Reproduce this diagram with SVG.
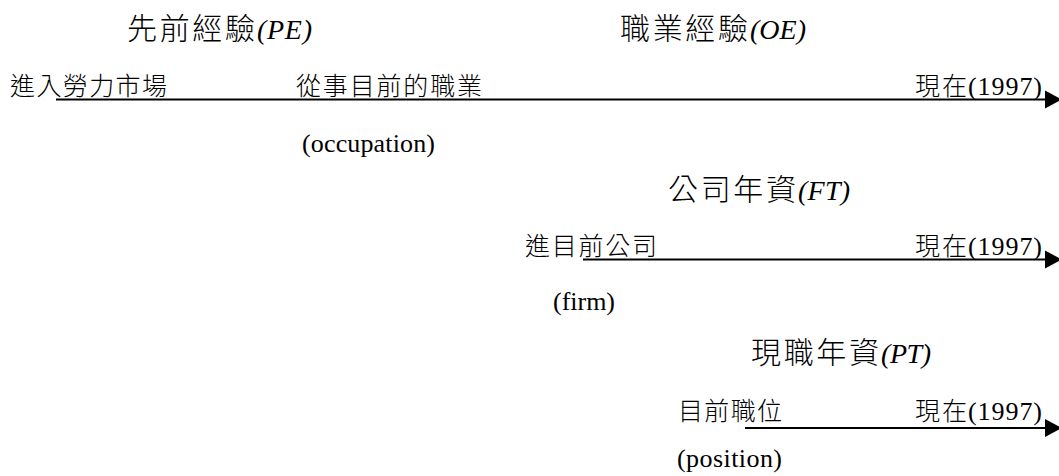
<svg xmlns="http://www.w3.org/2000/svg" width="1059" height="476" viewBox="0 0 1059 476">
<style>
.bg{fill:#ffffff}
.tc{font-family:"Noto Sans CJK TC","Noto Sans CJK SC",sans-serif;font-size:30px;font-weight:300;fill:#000}
.ti{font-family:"Liberation Serif","Times New Roman",serif;font-style:italic;font-size:28px;fill:#000}
.lc{font-family:"Noto Sans CJK TC","Noto Sans CJK SC",sans-serif;font-size:25px;font-weight:300;fill:#000}
.ll{font-family:"Liberation Serif","Times New Roman",serif;font-size:26px;fill:#000}
.ln{stroke:#000;stroke-width:2;fill:none}
</style>
<defs>
<marker id="ah" markerUnits="userSpaceOnUse" markerWidth="18" markerHeight="20" refX="0" refY="10" orient="auto">
<path d="M0,1 L17,10 L0,19 Z" fill="#000"/>
</marker>
</defs>
<rect class="bg" x="0" y="0" width="1059" height="476"/>
<g id="connectors">
<line class="ln" x1="56" y1="99.5" x2="1045" y2="99.5" marker-end="url(#ah)"/>
<line class="ln" x1="583" y1="259.5" x2="1045" y2="259.5" marker-end="url(#ah)"/>
<line class="ln" x1="745" y1="428" x2="1045" y2="428" marker-end="url(#ah)"/>
</g>
<g id="title-pe">
<text class="tc" x="127" y="39" textLength="128">先前經驗</text>
<text class="ti" x="257" y="39" textLength="55">(PE)</text>
</g>
<g id="title-oe">
<text class="tc" x="620" y="39" textLength="128">職業經驗</text>
<text class="ti" x="750" y="39" textLength="56">(OE)</text>
</g>
<g id="title-ft">
<text class="tc" x="668" y="200" textLength="128">公司年資</text>
<text class="ti" x="798" y="200" textLength="52">(FT)</text>
</g>
<g id="title-pt">
<text class="tc" x="751" y="363" textLength="128">現職年資</text>
<text class="ti" x="881" y="363" textLength="50">(PT)</text>
</g>
<g id="node-enter-labor">
<text class="lc" x="10" y="95" textLength="157">進入勞力市場</text>
</g>
<g id="node-occupation">
<text class="lc" x="296" y="95" textLength="186">從事目前的職業</text>
<text class="ll" x="302" y="152" textLength="133">(occupation)</text>
</g>
<g id="node-now-1">
<text class="lc" x="915" y="95" textLength="52">現在</text>
<text class="ll" x="968" y="95" textLength="74">(1997)</text>
</g>
<g id="node-firm">
<text class="lc" x="525" y="255" textLength="132">進目前公司</text>
<text class="ll" x="553" y="310" textLength="62">(firm)</text>
</g>
<g id="node-now-2">
<text class="lc" x="915" y="255" textLength="52">現在</text>
<text class="ll" x="968" y="255" textLength="74">(1997)</text>
</g>
<g id="node-position">
<text class="lc" x="678" y="420" textLength="104">目前職位</text>
<text class="ll" x="677" y="467" textLength="105">(position)</text>
</g>
<g id="node-now-3">
<text class="lc" x="915" y="420" textLength="52">現在</text>
<text class="ll" x="968" y="420" textLength="74">(1997)</text>
</g>
</svg>
